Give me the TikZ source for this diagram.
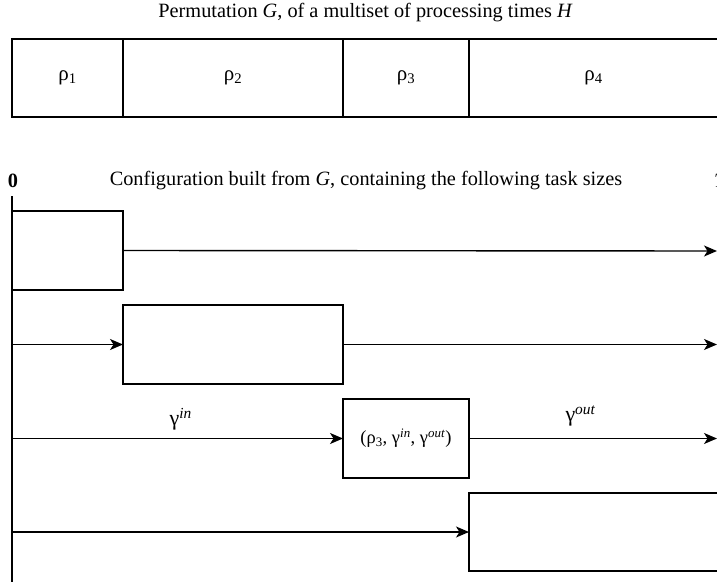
\documentclass[tikz,border=0pt]{standalone}
\usepackage{fontspec}
\setmainfont{Liberation Serif}
\usetikzlibrary{arrows.meta}
\begin{document}
\begin{tikzpicture}[x=1pt,y=-1pt,
  every node/.style={inner sep=0pt,outer sep=0pt},
  cell/.style={draw,line width=1.4pt,anchor=north west,font=\fontsize{21}{24}\selectfont},
  flow/.style={line width=1.4pt,-{Stealth[length=13pt,width=11pt,inset=3.5pt]}},
  plain/.style={line width=1.4pt},
  ttl/.style={font=\fontsize{20.3}{23}\selectfont},
  lbl/.style={font=\fontsize{22}{25}\selectfont}]
\useasboundingbox (0,0) rectangle (717,586);
\clip (0,0) rectangle (717,586);
% top strip
\node[ttl] (title) at (365.5,13) {Permutation \textit{G}, of a multiset of processing times \textit{H}};
\node[cell,minimum width=111pt,minimum height=78pt] (p1) at (12,39) {ρ\textsubscript{1}};
\node[cell,minimum width=220pt,minimum height=78pt] (p2) at (123,39) {ρ\textsubscript{2}};
\node[cell,minimum width=126pt,minimum height=78pt] (p3) at (343,39) {ρ\textsubscript{3}};
\node[cell,minimum width=249pt,minimum height=78pt] (p4) at (469,39) {ρ\textsubscript{4}};
% configuration
\node[ttl,font=\fontsize{20.3}{23}\selectfont\bfseries] (zero) at (13,181) {0};
\node[ttl] (conf) at (366,181) {Configuration built from \textit{G}, containing the following task sizes};
\node[ttl,anchor=west] (T) at (714,181) {\textit{T}};
\coordinate (axtop) at (12,196);
\coordinate (axbot) at (12,582);
\draw[plain] (axtop) -- (axbot);
% row 1
\node[cell,minimum width=111pt,minimum height=79pt] (b1) at (12,211) {};
\coordinate (e1) at (717,251);
\draw[flow] (b1.east) -- (e1);
% row 2
\coordinate (s2) at (12,344.5);
\node[cell,minimum width=220pt,minimum height=79pt] (b2) at (123,305) {};
\coordinate (e2) at (717,344.5);
\draw[flow] (s2) -- (b2.west);
\draw[flow] (b2.east) -- (e2);
% row 3
\coordinate (s3) at (12,438.5);
\node[cell,minimum width=126pt,minimum height=79pt,font=\fontsize{18.5}{21}\selectfont] (b3) at (343,399) {(ρ\textsubscript{3}, γ\textsuperscript{\textit{in}}, γ\textsuperscript{\textit{out}})};
\coordinate (e3) at (717,438.5);
\draw[flow] (s3) -- node[lbl,above=8pt,pos=0.51] (gin) {γ\textsuperscript{\textit{in}}} (b3.west);
\draw[flow] (b3.east) -- node[lbl,above=12pt,pos=0.45] (gout) {γ\textsuperscript{\textit{out}}} (e3);
% row 4
\coordinate (s4) at (12,532);
\node[cell,minimum width=249pt,minimum height=78pt] (b4) at (469,493) {};
\draw[flow] (s4) -- (b4.west);
\end{tikzpicture}
\end{document}
